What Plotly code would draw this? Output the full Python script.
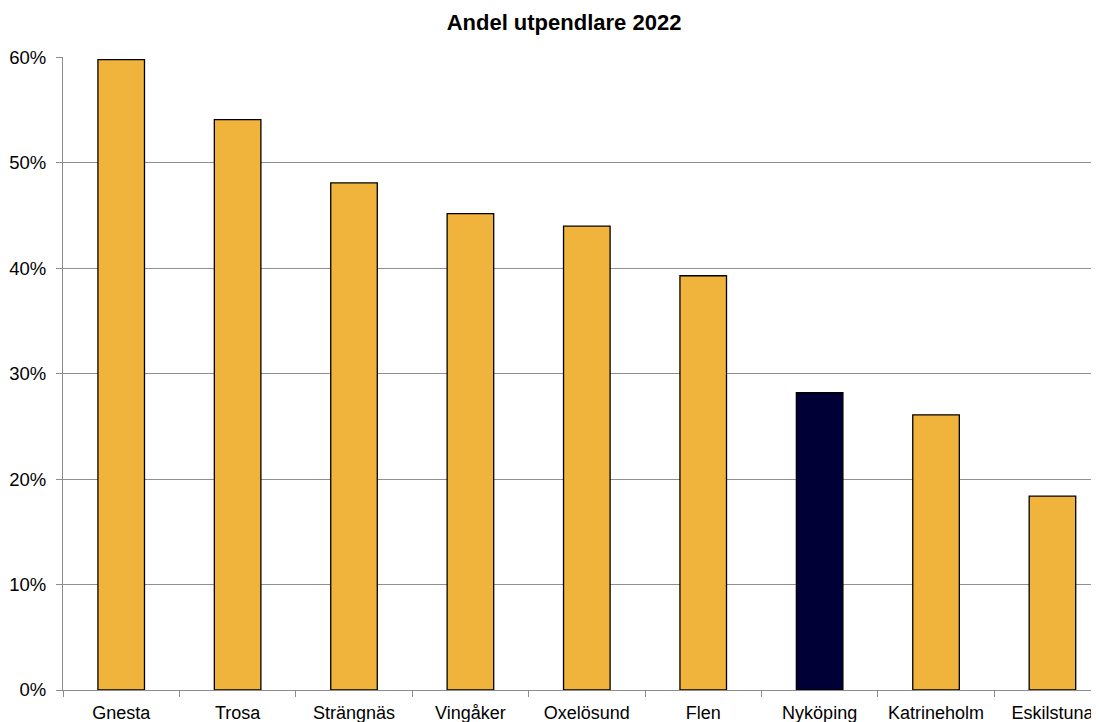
import plotly.graph_objects as go

categories = ["Gnesta", "Trosa", "Strängnäs", "Vingåker", "Oxelösund", "Flen", "Nyköping", "Katrineholm", "Eskilstuna"]
values = [0.598, 0.541, 0.481, 0.452, 0.440, 0.393, 0.282, 0.261, 0.184]
highlight = "Nyköping"

ORANGE = "#F0B43C"
NAVY = "#000036"
colors = [NAVY if c == highlight else ORANGE for c in categories]

fig = go.Figure(go.Bar(
    x=categories, y=values, width=0.4,
    marker=dict(color=colors, line=dict(color="black", width=1.3)),
))

# page has an 8px body margin; figure sized to fit the 1099x722 window
W, H = 1091, 714
fig.update_layout(
    width=W, height=H,
    margin=dict(l=55, r=0, t=49, b=32),
    paper_bgcolor="white", plot_bgcolor="white",
    font=dict(family="Liberation Sans, Arial, sans-serif", size=18, color="black"),
    title=dict(text="<b>Andel utpendlare 2022</b>", x=556/W, xanchor="center",
               y=1 - 14/H, yanchor="middle", font=dict(size=22)),
    showlegend=False,
    bargap=0.6,
)
fig.update_xaxes(
    type="category", range=[-0.5, 8.4],
    showline=True, linecolor="#8c8c8c", linewidth=1,
    ticks="outside", tickson="boundaries", ticklen=6, tickcolor="#8c8c8c",
    showgrid=False, tickfont=dict(size=18), ticklabelstandoff=6,
)
fig.update_yaxes(
    range=[0, 0.6005], tickvals=[0, 0.1, 0.2, 0.3, 0.4, 0.5, 0.6],
    tickformat=".0%",
    showline=True, linecolor="#8c8c8c", linewidth=1,
    ticks="outside", ticklen=6, tickcolor="#8c8c8c",
    showgrid=True, gridcolor="#8f8f8f", gridwidth=1,
    zeroline=False, tickfont=dict(size=18.5), ticklabelstandoff=6,
)

fig.write_html("out.html")
